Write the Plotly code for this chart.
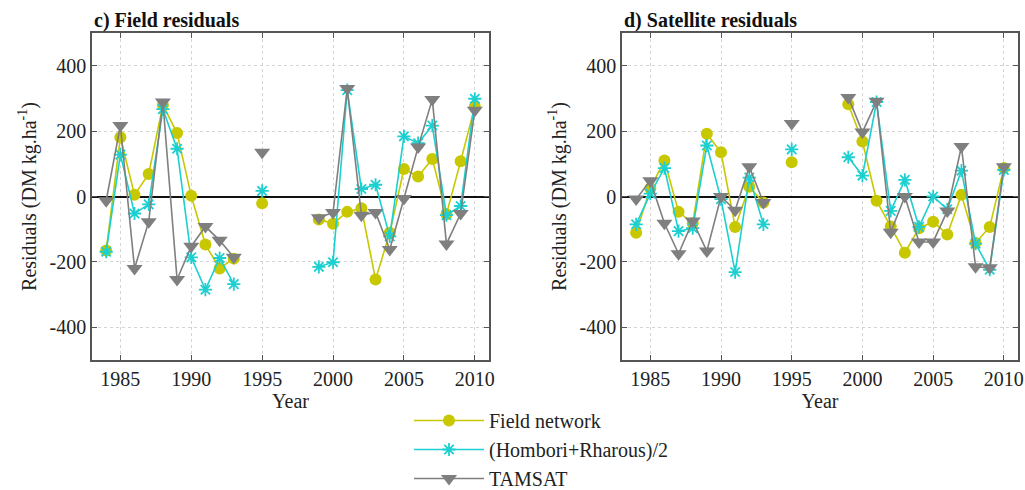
import plotly.graph_objects as go

years = [1984, 1985, 1986, 1987, 1988, 1989, 1990, 1991, 1992, 1993, 1994, 1995,
         1996, 1997, 1998, 1999, 2000, 2001, 2002, 2003, 2004, 2005, 2006, 2007,
         2008, 2009, 2010]
N = None

# Panel c) Field residuals
c_field = [-165, 181, 5, 69, 280, 194, 2, -147, -220, -190, N, -21,
           N, N, N, -70, -83, -47, -36, -254, -111, 84, 61, 115, -54, 108, 275]
c_hr = [-169, 128, -52, -24, 267, 146, -186, -285, -188, -268, N, 17,
        N, N, N, -215, -201, 325, 23, 36, -122, 184, 163, 217, -57, -29, 299]
c_tamsat = [-13, 217, -220, -77, 289, -254, -152, -92, -134, -186, N, 135,
            N, N, N, -65, -49, 330, -57, -49, -162, -6, 151, 297, -145, -52, 264]

# Panel d) Satellite residuals
d_field = [-111, 25, 110, -47, -82, 192, 135, -93, 30, -18, N, 105,
           N, N, N, 282, 168, -13, -92, -172, -97, -77, -116, 5, -142, -93, 87]
d_hr = [-85, 9, 87, -106, -97, 156, -8, -231, 58, -85, N, 144,
        N, N, N, 120, 64, 289, -44, 51, -93, 0, -39, 79, -144, -224, 81]
d_tamsat = [-8, 48, -82, -175, -75, -167, 0, -42, 91, -18, N, 223,
            N, N, N, 303, 197, 291, -109, 0, -139, -139, -44, 153, -215, -218, 91]

series_names = ["Field network", "(Hombori+Rharous)/2", "TAMSAT"]
x_ticks = [1985, 1990, 1995, 2000, 2005, 2010]
y_ticks = [-400, -200, 0, 200, 400]
y_ticktext = ["-400", "-200", "0", "200", "400"]
panel_titles = ["<b>c) Field residuals</b>", "<b>d) Satellite residuals</b>"]

YEL = "#c8c800"
CYA = "#1ccfd0"
GRY = "#7f7f7f"
FONT = "Liberation Serif"
FS = 20

styles = [
    dict(color=YEL, marker=dict(symbol="circle", size=12, color=YEL)),
    dict(color=CYA, marker=dict(symbol="asterisk-open", size=11, color=CYA,
                                line=dict(color=CYA, width=1.8))),
    dict(color=GRY, marker=dict(symbol="triangle-down", size=14, color=GRY)),
]

fig = go.Figure()
panels = [(c_field, c_hr, c_tamsat), (d_field, d_hr, d_tamsat)]
for p, data in enumerate(panels):
    xa = "x" if p == 0 else "x2"
    ya = "y" if p == 0 else "y2"
    for i, vals in enumerate(data):
        st = styles[i]
        fig.add_trace(go.Scatter(
            x=years, y=vals, mode="lines+markers", name=series_names[i],
            line=dict(color=st["color"], width=1.6), marker=st["marker"],
            connectgaps=False, xaxis=xa, yaxis=ya, showlegend=(p == 0),
        ))

W, H = 1025, 490
ydom = [1 - 360 / H, 1 - 33 / H]
axis_common = dict(
    showgrid=True, gridcolor="#d4d4d4", griddash="dot", gridwidth=1,
    showline=True, linecolor="#555555", linewidth=1.5, mirror="ticks",
    ticks="inside", ticklen=5, tickcolor="#555555",
    tickfont=dict(family=FONT, size=FS, color="#222"),
)
ytitle = "Residuals (DM kg.ha<sup>-1</sup>)"
fig.update_layout(
    width=W, height=H,
    margin=dict(l=0, r=0, t=0, b=0, autoexpand=False),
    paper_bgcolor="white", plot_bgcolor="white",
    font=dict(family=FONT, size=FS, color="#222"),
    xaxis=dict(domain=[92 / W, 489 / W], range=[1983, 2011], tickvals=x_ticks,
               zeroline=False, anchor="y",
               title=dict(text="Year", standoff=4, font=dict(family=FONT, size=FS)),
               **axis_common),
    yaxis=dict(domain=ydom, range=[-500, 500], tickvals=y_ticks, ticktext=y_ticktext,
               anchor="x", zeroline=True, zerolinecolor="#111", zerolinewidth=2,
               title=dict(text=ytitle, standoff=8, font=dict(family=FONT, size=FS)),
               **axis_common),
    xaxis2=dict(domain=[622 / W, 1018 / W], range=[1983, 2011], tickvals=x_ticks,
                zeroline=False, anchor="y2",
                title=dict(text="Year", standoff=4, font=dict(family=FONT, size=FS)),
                **axis_common),
    yaxis2=dict(domain=ydom, range=[-500, 500], tickvals=y_ticks, ticktext=y_ticktext,
                anchor="x2", zeroline=True, zerolinecolor="#111", zerolinewidth=2,
                title=dict(text=ytitle, standoff=8, font=dict(family=FONT, size=FS)),
                **axis_common),
    legend=dict(x=409 / W, y=1 - 401 / H, xanchor="left", yanchor="top",
                font=dict(family=FONT, size=FS, color="#222"),
                bgcolor="rgba(0,0,0,0)", tracegroupgap=0, itemwidth=70),
    showlegend=True,
)
for p, t in enumerate(panel_titles):
    fig.add_annotation(text=t, x=(92 if p == 0 else 622) / W, y=1 - 21 / H,
                       xref="paper", yref="paper", xanchor="left", yanchor="middle",
                       showarrow=False, font=dict(family=FONT, size=FS, color="#111"))

fig.write_html("out.html", config={"displayModeBar": False},
               post_script="document.body.style.margin='0';document.body.style.overflow='hidden';")
